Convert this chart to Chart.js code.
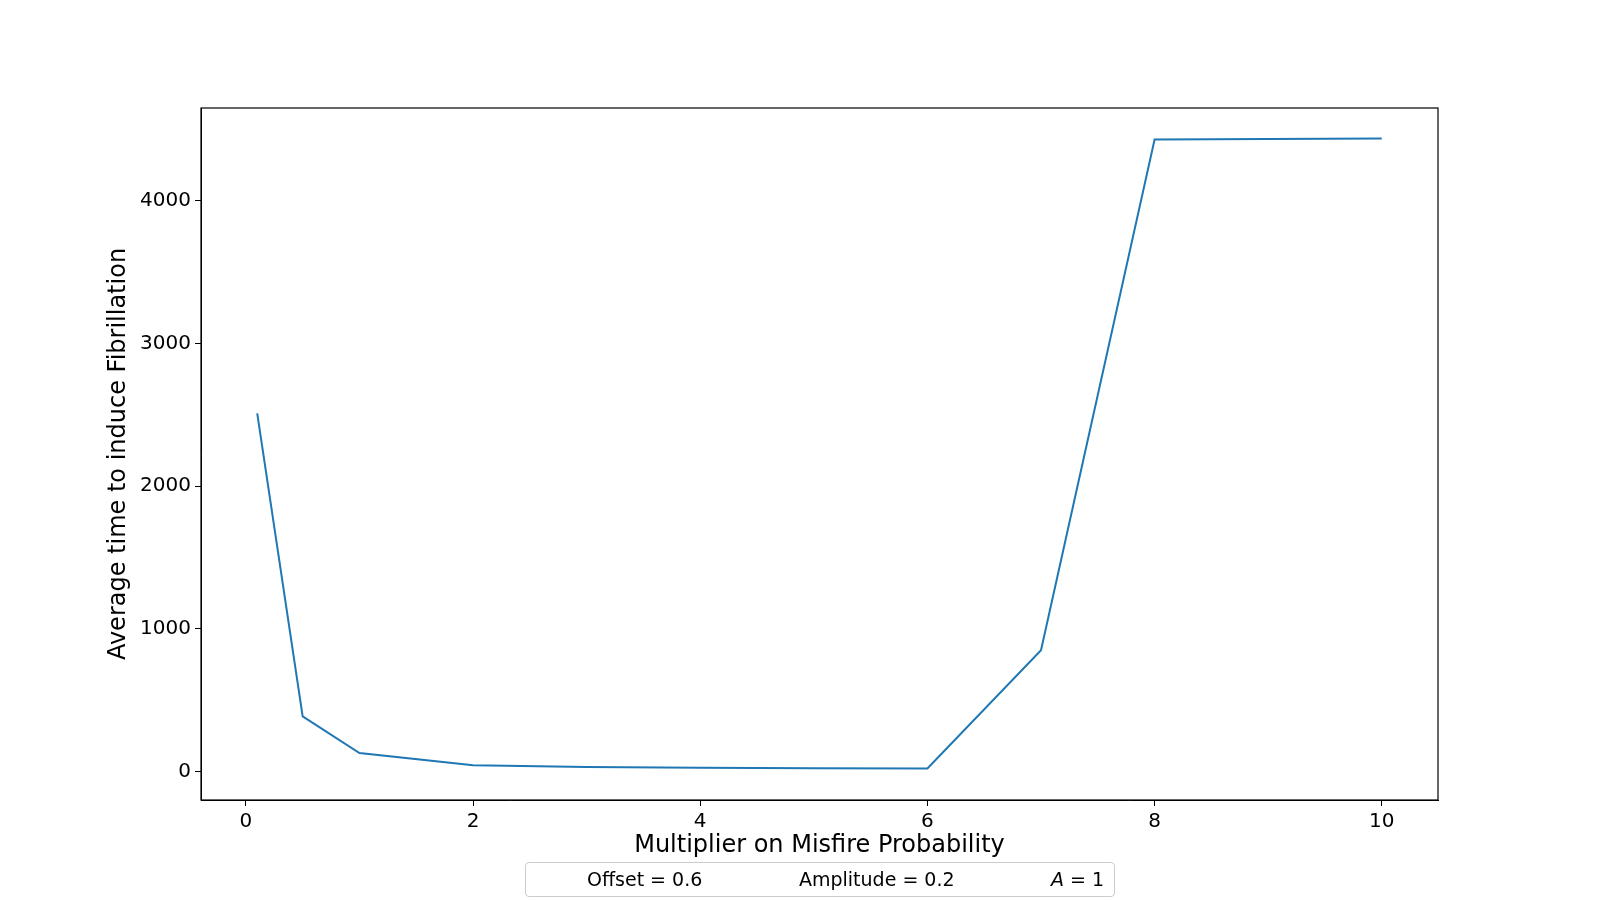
<!DOCTYPE html>
<html><head><meta charset="utf-8">
<script src="https://cdn.jsdelivr.net/npm/chart.js@4"></script>
<style>
html,body{margin:0;padding:0;background:#fff;}
#wrap{position:relative;width:1600px;height:900px;}
#legend{position:absolute;left:525px;top:862px;width:590px;height:35px;border:1px solid #ccc;border-radius:4px;
font-family:"DejaVu Sans";font-size:19px;color:#000;box-sizing:border-box;}
#legend span{position:absolute;top:5px;}
</style></head><body>
<div id="wrap"><canvas id="c" width="1600" height="900"></canvas>
<div id="legend"><span style="left:61px">Offset = 0.6</span><span style="left:273px">Amplitude = 0.2</span><span style="left:525px"><i>A</i> = 1</span></div>
</div>
<script>
const xValues=[0.1,0.5,1,2,3,4,5,6,7,8,9,10];
const yValues=[2510,386,129,43,32,26,23,21,850,4429,4432,4436];
const xTicks=[0,2,4,6,8,10];
const yTicks=[0,1000,2000,3000,4000];
const frame={id:'frame',afterDraw(c){const a=c.chartArea,x=c.ctx;x.save();x.strokeStyle='#000';x.lineWidth=1.2;x.strokeRect(a.left,a.top,a.right-a.left,a.bottom-a.top);x.restore();}};
new Chart(document.getElementById('c'),{
type:'line',
data:{datasets:[{data:xValues.map((v,i)=>({x:v,y:yValues[i]})),borderColor:'#1f77b4',borderWidth:2,pointRadius:0,tension:0,fill:false}]},
options:{responsive:false,animation:false,devicePixelRatio:1,
layout:{padding:{top:108,right:162,left:0,bottom:0}},
plugins:{legend:{display:false},tooltip:{enabled:false}},
scales:{
x:{type:'linear',min:-0.395,max:10.495,afterFit(s){s.height=100;},
afterBuildTicks(s){s.ticks=xTicks.map(v=>({value:v}));},
grid:{drawOnChartArea:false,drawTicks:true,tickLength:6,color:'#000'},border:{color:'#000'},
ticks:{color:'#000',font:{family:'DejaVu Sans',size:20},padding:4,maxRotation:0,callback:v=>String(v)},
title:{display:true,text:'Multiplier on Misfire Probability',color:'#000',font:{family:'DejaVu Sans',size:24},padding:{top:0,bottom:40}}},
y:{type:'linear',min:-200,max:4650,afterFit(s){s.width=201;},
afterBuildTicks(s){s.ticks=yTicks.map(v=>({value:v}));},
grid:{drawOnChartArea:false,drawTicks:true,tickLength:6,color:'#000'},border:{color:'#000'},
ticks:{color:'#000',font:{family:'DejaVu Sans',size:20},padding:4,callback:v=>String(v)},
title:{display:true,text:'Average time to induce Fibrillation',color:'#000',font:{family:'DejaVu Sans',size:24},padding:{top:104,bottom:0}}}
}},
plugins:[frame]});
</script></body></html>
